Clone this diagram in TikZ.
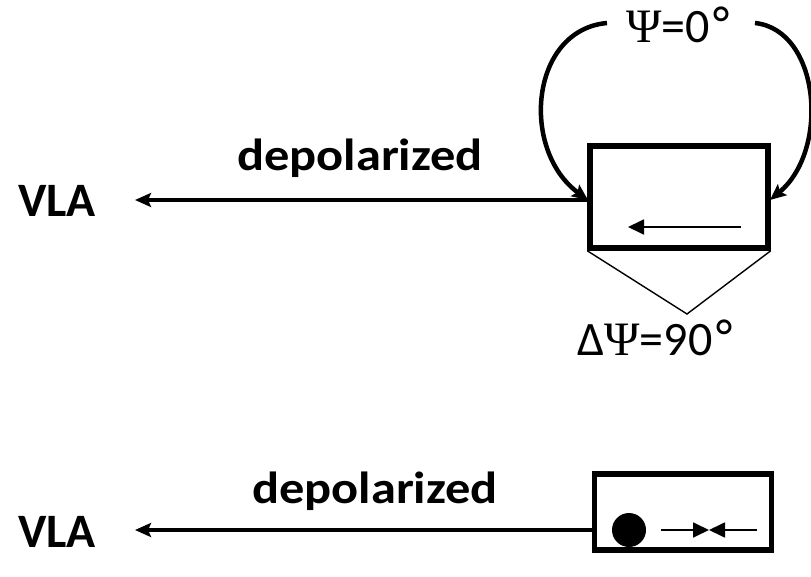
\documentclass[tikz,border=0pt]{standalone}
\usepackage{fontspec}
\setmainfont{Carlito}
\newfontfamily\psifont{Liberation Serif}
\newfontfamily\degfont{DejaVu Sans}
\usetikzlibrary{arrows.meta}
\begin{document}
\begin{tikzpicture}[x=1pt,y=-1pt,
  thickline/.style={line width=4.5pt},
  thinline/.style={line width=1.8pt},
  boxstyle/.style={draw,line width=5.5pt,rectangle,inner sep=0pt},
  bigtip/.style={-{Stealth[length=16pt,width=14pt,inset=3pt]}},
  thintip/.style={-{Triangle[length=16pt,width=15pt]}},
  lbl/.style={font=\fontsize{48}{52}\selectfont\bfseries,inner sep=0pt,anchor=base},
  deplbl/.style={font=\fontsize{45}{50}\selectfont\bfseries,inner sep=0pt,anchor=base,xscale=1.12},
  angl/.style={font=\fontsize{48}{52}\selectfont,inner sep=0pt,anchor=base}]
\useasboundingbox (0,0) rectangle (811,577);

% upper configuration
\node[boxstyle,minimum width=178pt,minimum height=102pt] (box1) at (679,197) {};
\node[lbl] (vla1) at (57,217) {VLA};
\node[deplbl] (dep1) at (360,171) {depolarized};
\coordinate (in1) at (590,200);
\coordinate (tip1) at (135,200);
\draw[thickline,bigtip] (in1) -- (tip1);

\coordinate (a1s) at (741,227);
\coordinate (a1e) at (628,227);
\draw[thinline,thintip] (a1s) -- (a1e);

\node[angl] (psi0) at (680,43) {{\psifont Ψ}=0{\degfont °}};
\coordinate (cl0) at (607,23);
\coordinate (cl1) at (588,200);
\coordinate (cr0) at (755,23);
\coordinate (cr1) at (770,200);
\draw[thickline,bigtip] (cl0) .. controls (530,30) and (520,150) .. (cl1);
\draw[thickline,bigtip] (cr0) .. controls (820,30) and (830,150) .. (cr1);

\coordinate (apex) at (687,314);
\draw[line width=1.4pt] (box1.south west) -- (apex) -- (box1.south east);
\node[angl] (dpsi) at (657,355) {Δ{\psifont Ψ}=90{\degfont °}};

% lower configuration
\node[boxstyle,minimum width=177pt,minimum height=76pt] (box2) at (683,512) {};
\node[lbl] (vla2) at (57,547) {VLA};
\node[deplbl] (dep2) at (375,503) {depolarized};
\coordinate (in2) at (595,530);
\coordinate (tip2) at (135,530);
\draw[thickline,bigtip] (in2) -- (tip2);

\node[circle,fill,minimum size=34pt,inner sep=0pt] (dot) at (629,530) {};
\coordinate (sl) at (661,530);
\coordinate (sr) at (757,530);
\coordinate (mid) at (709,530);
\draw[thinline,thintip] (sl) -- (mid);
\draw[thinline,thintip] (sr) -- (mid);
\end{tikzpicture}
\end{document}
